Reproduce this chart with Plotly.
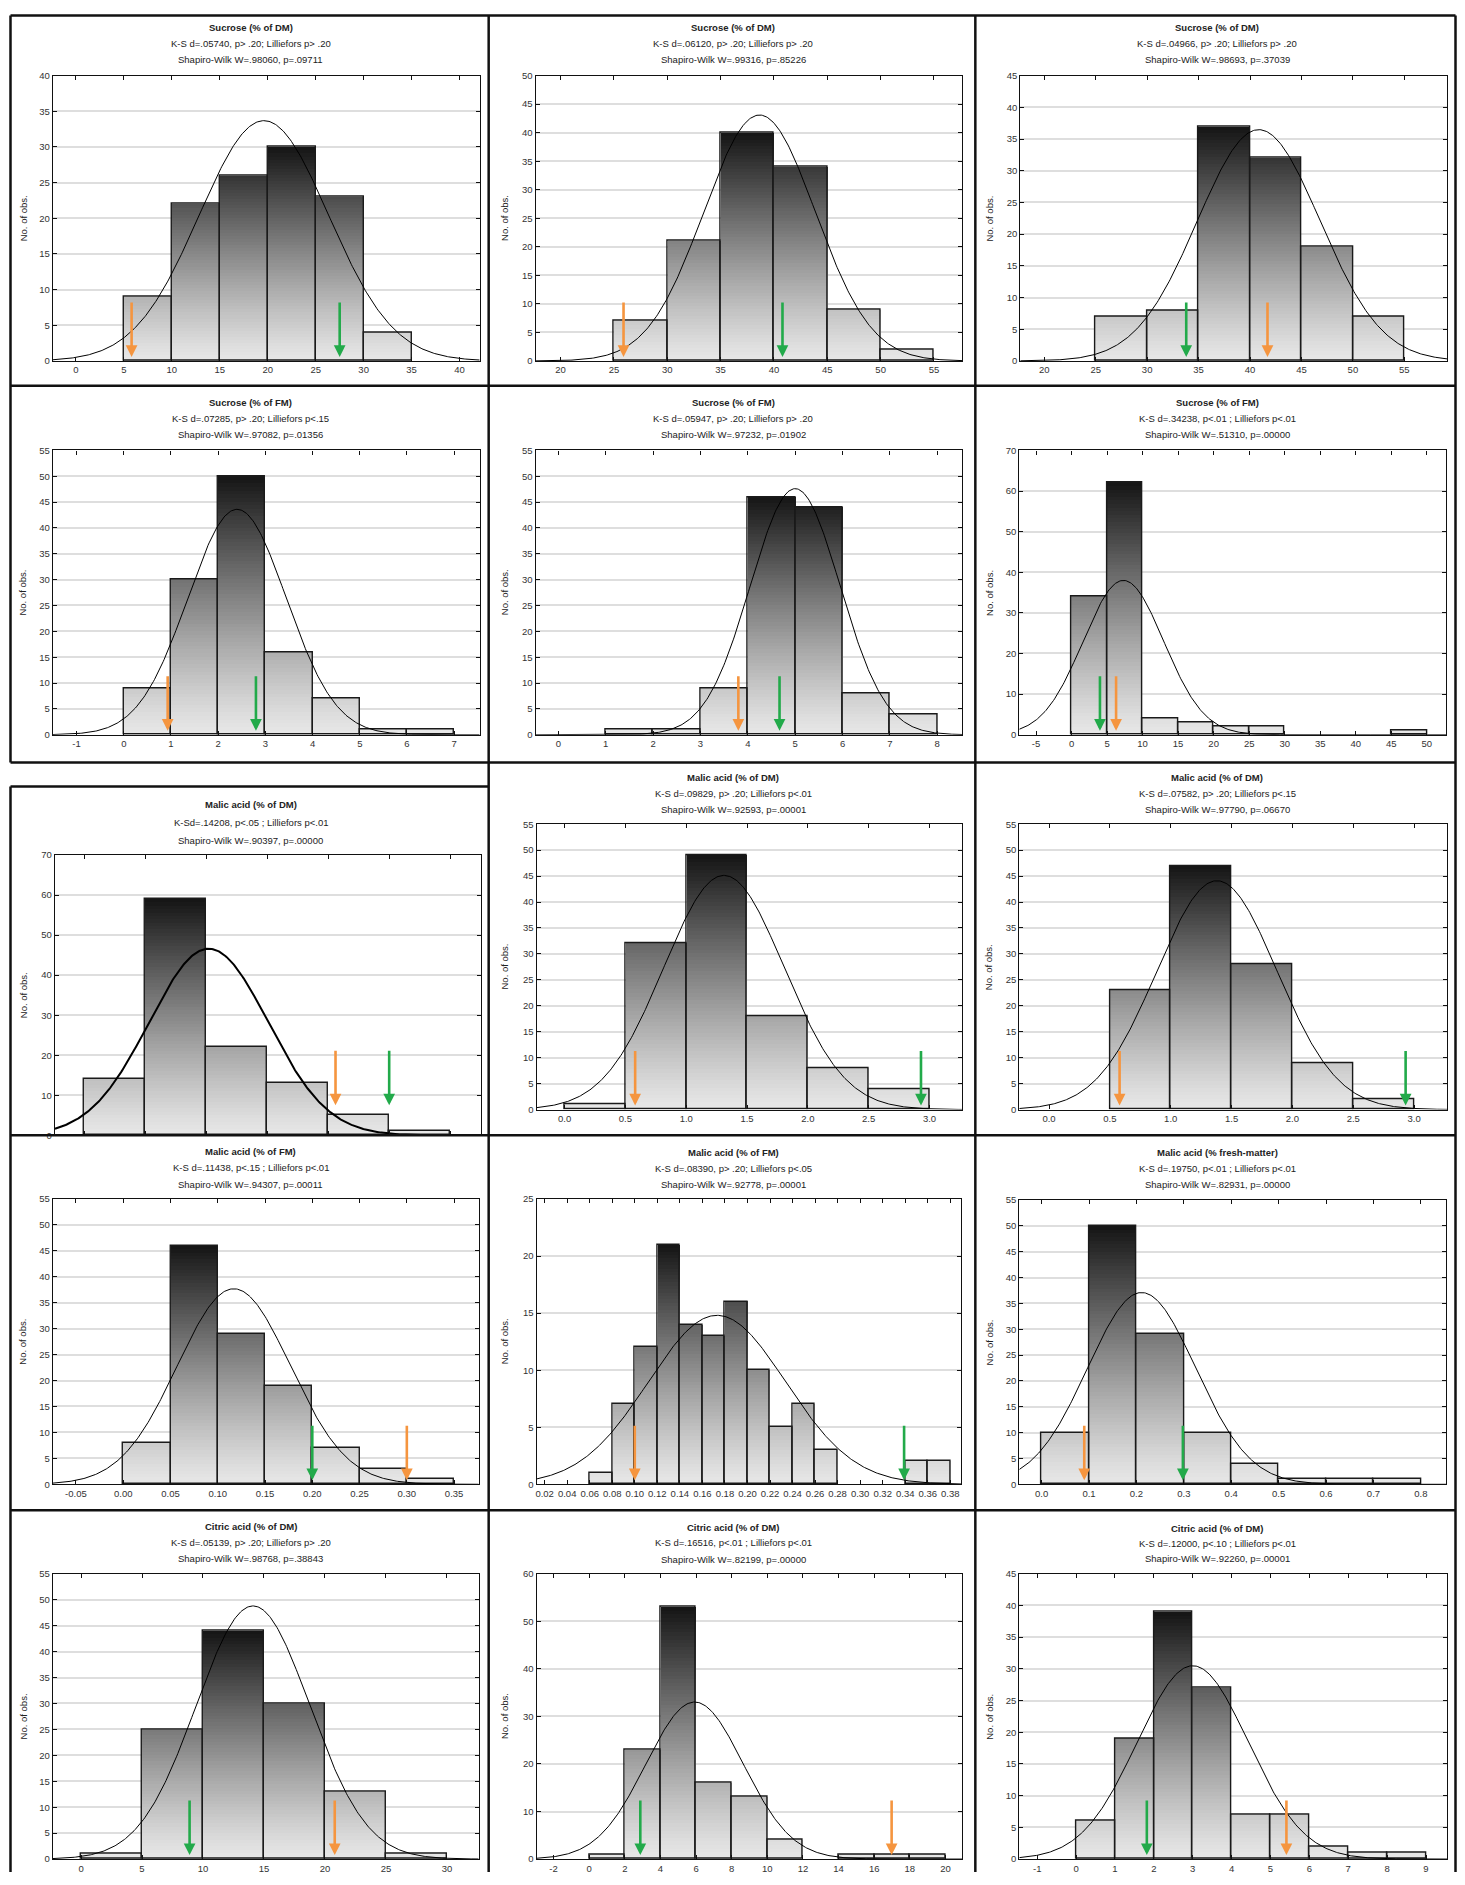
import numpy as np
import plotly.graph_objects as go

# ---------------- data ----------------
TITLES = [
    "Sucrose (% of DM)", "Sucrose (% of DM)", "Sucrose (% of DM)",
    "Sucrose (% of FM)", "Sucrose (% of FM)", "Sucrose (% of FM)",
    "Malic acid (% of DM)", "Malic acid (% of DM)", "Malic acid (% of DM)",
    "Malic acid (% of FM)", "Malic acid (% of FM)", "Malic acid (% fresh-matter)",
    "Citric acid (% of DM)", "Citric acid (% of DM)", "Citric acid (% of DM)",
]
KS_TEXT = [
    "K-S d=.05740, p> .20; Lilliefors p> .20",
    "K-S d=.06120, p> .20; Lilliefors p> .20",
    "K-S d=.04966, p> .20; Lilliefors p> .20",
    "K-S d=.07285, p> .20; Lilliefors p<.15",
    "K-S d=.05947, p> .20; Lilliefors p> .20",
    "K-S d=.34238, p<.01 ; Lilliefors p<.01",
    "K-Sd=.14208, p<.05 ; Lilliefors p<.01",
    "K-S d=.09829, p> .20; Lilliefors p<.01",
    "K-S d=.07582, p> .20; Lilliefors p<.15",
    "K-S d=.11438, p<.15 ; Lilliefors p<.01",
    "K-S d=.08390, p> .20; Lilliefors p<.05",
    "K-S d=.19750, p<.01 ; Lilliefors p<.01",
    "K-S d=.05139, p> .20; Lilliefors p> .20",
    "K-S d=.16516, p<.01 ; Lilliefors p<.01",
    "K-S d=.12000, p<.10 ; Lilliefors p<.01",
]
SW_TEXT = [
    "Shapiro-Wilk W=.98060, p=.09711",
    "Shapiro-Wilk W=.99316, p=.85226",
    "Shapiro-Wilk W=.98693, p=.37039",
    "Shapiro-Wilk W=.97082, p=.01356",
    "Shapiro-Wilk W=.97232, p=.01902",
    "Shapiro-Wilk W=.51310, p=.00000",
    "Shapiro-Wilk W=.90397, p=.00000",
    "Shapiro-Wilk W=.92593, p=.00001",
    "Shapiro-Wilk W=.97790, p=.06670",
    "Shapiro-Wilk W=.94307, p=.00011",
    "Shapiro-Wilk W=.92778, p=.00001",
    "Shapiro-Wilk W=.82931, p=.00000",
    "Shapiro-Wilk W=.98768, p=.38843",
    "Shapiro-Wilk W=.82199, p=.00000",
    "Shapiro-Wilk W=.92260, p=.00001",
]
BIN_START = [5, 25, 25, 0, 1, 0, 0, 0, 0.5, 0, 0.06, 0, 0, 0, 0]
BIN_WIDTH = [5, 5, 5, 1, 1, 5, 0.5, 0.5, 0.5, 0.05, 0.02, 0.1, 5, 2, 1]
COUNTS = [
    [9, 22, 26, 30, 23, 4],
    [7, 21, 40, 34, 9, 2],
    [7, 8, 37, 32, 18, 7],
    [9, 30, 50, 16, 7, 1, 1],
    [1, 1, 9, 46, 44, 8, 4],
    [34, 62, 4, 3, 2, 2, 0, 0, 0, 1],
    [14, 59, 22, 13, 5, 1],
    [1, 32, 49, 18, 8, 4],
    [23, 47, 28, 9, 2],
    [8, 46, 29, 19, 7, 3, 1],
    [1, 7, 12, 21, 14, 13, 16, 10, 5, 7, 3, 0, 0, 0, 2, 2],
    [10, 50, 29, 10, 4, 1, 1, 1],
    [1, 25, 44, 30, 13, 1],
    [1, 23, 53, 16, 13, 4, 0, 1, 1, 1],
    [6, 19, 39, 27, 7, 7, 2, 1, 1],
]
CURVE_MEAN = [19.6, 38.65, 40.85, 2.4, 5.0, 7.3, 1.02, 1.31, 1.38,
              0.117, 0.173, 0.211, 14.1, 5.92, 3.0]
CURVE_SD = [6.75, 5.23, 5.96, 1.043, 0.947, 5.67, 0.488, 0.495, 0.493,
            0.0598, 0.0609, 0.114, 4.66, 2.73, 1.426]
ORANGE_X = [5.8, 25.9, 41.7, 0.93, 3.8, 6.27, 2.06, 0.58, 0.58,
            0.30, 0.10, 0.09, 20.8, 16.98, 5.41]
GREEN_X = [27.5, 40.8, 33.8, 2.8, 4.67, 4.0, 2.50, 2.93, 2.93,
           0.20, 0.339, 0.298, 8.9, 2.87, 1.82]

# ---------------- layout configuration ----------------
PAGE_W, PAGE_H = 1465, 1885
OFF = 8                      # default page margin around the plot div
W, H = PAGE_W - 2 * OFF, PAGE_H - 2 * OFF
X_RANGE = [[-2.4, 42.1], [17.66, 57.66], [17.67, 59.15], [-1.5, 7.54], [-0.48, 8.53],
           [-7.35, 52.7], [-0.24, 3.25], [-0.23, 3.27], [-0.244, 3.27],
           [-0.0743, 0.376], [0.0129, 0.3898], [-0.047, 0.853],
           [-2.3, 32.6], [-2.95, 20.95], [-1.46, 9.54]]
Y_MAX = [40, 50, 45, 55, 55, 70, 70, 55, 55, 55, 25, 55, 55, 60, 45]
X_DTICK = [5, 5, 5, 1, 1, 5, 0.5, 0.5, 0.5, 0.05, 0.02, 0.1, 5, 2, 1]
X_DEC = [0, 0, 0, 0, 0, 0, 1, 1, 1, 2, 2, 1, 0, 0, 0]
Y_DTICK = [5, 5, 5, 5, 5, 10, 10, 5, 5, 5, 5, 5, 5, 10, 5]
ARROW_TIP_Y = [0, 0, 0, 0, 0, 0, 6.5, 0, 0, 0, 0, 0, 0, 0, 0]
SHOW_XLABELS = [True] * 6 + [False] + [True] * 8
CURVE_WIDTH = [1] * 6 + [2] + [1] * 8
# plot boxes in page pixels: x0, x1, y_top, y_bottom
BOX = [
    (52, 479, 70, 357), (535, 962, 70, 357), (1020, 1447, 70, 357),
    (52, 479, 447, 733), (535, 962, 447, 733), (1019, 1446, 447, 733),
    (54, 480, 854, 1136), (536, 962, 823, 1110), (1019, 1447, 823, 1110),
    (52, 478, 1200, 1487), (536, 961, 1200, 1487), (1019, 1446, 1201, 1487),
    (52, 478, 1577, 1864), (536, 962, 1577, 1864), (1019, 1447, 1577, 1864),
]
TITLE_Y = [
    (22, 38, 54), (22, 38, 54), (22, 38, 54),
    (399, 415, 431), (399, 415, 431), (399, 415, 431),
    (803, 821, 839), (776, 792, 808), (776, 792, 808),
    (1152, 1168, 1185), (1153, 1169, 1185), (1153, 1169, 1185),
    (1529, 1546, 1562), (1530, 1546, 1563), (1531, 1547, 1562),
]
TITLE_X = [250, 733, 1217]
YTITLE_X = [22, 504, 989]

FONT = "Liberation Sans, Arial, sans-serif"
FS = 9.5
ORANGE = "#f5953f"
GREEN = "#22aa4a"


def px(x):
    return (x - OFF) / W


def py(y):
    return 1 - (y - OFF) / H


def gray(t):
    g = int(round(232 - 212 * (max(0.0, min(1.0, t)) ** 1.15)))
    return f"rgb({g},{g},{g})"


fig = go.Figure()
annotations = []
shapes = []
layout = {}

for i in range(15):
    k = i + 1
    xa = "x" if k == 1 else f"x{k}"
    ya = "y" if k == 1 else f"y{k}"
    xname = "xaxis" if k == 1 else f"xaxis{k}"
    yname = "yaxis" if k == 1 else f"yaxis{k}"

    counts = np.array(COUNTS[i], dtype=float)
    w = BIN_WIDTH[i]
    centers = BIN_START[i] + w * (np.arange(len(counts)) + 0.5)
    nz = counts > 0
    cmax = counts.max()

    # gradient fill: stack thin slices, coloured by their height
    step = cmax / 70.0
    sx, sb, sh, sc = [], [], [], []
    for c, h in zip(centers[nz], counts[nz]):
        b = 0.0
        while b < h - 1e-9:
            top = min(b + step, h)
            sx.append(c)
            sb.append(b)
            sh.append(top - b + (0.02 * step if top < h else 0))
            sc.append(gray((b + top) / 2 / cmax))
            b = top
    fig.add_trace(go.Bar(x=sx, y=sh, base=sb, width=w, xaxis=xa, yaxis=ya,
                         marker=dict(color=sc, line=dict(width=0)),
                         hoverinfo="skip", showlegend=False))
    # outlines
    fig.add_trace(go.Bar(x=centers[nz], y=counts[nz], width=w, xaxis=xa, yaxis=ya,
                         marker=dict(color="rgba(0,0,0,0)",
                                     line=dict(color="#1a1a1a", width=1.4)),
                         showlegend=False))
    # fitted normal curve
    n = counts.sum()
    xs = np.linspace(X_RANGE[i][0], X_RANGE[i][1], 400)
    ys = n * w / (CURVE_SD[i] * np.sqrt(2 * np.pi)) * np.exp(
        -0.5 * ((xs - CURVE_MEAN[i]) / CURVE_SD[i]) ** 2)
    fig.add_trace(go.Scatter(x=xs, y=ys, mode="lines", xaxis=xa, yaxis=ya,
                             line=dict(color="black", width=CURVE_WIDTH[i]),
                             showlegend=False, hoverinfo="skip"))

    x0, x1, yt, yb = BOX[i]
    # x ticks
    d = X_DTICK[i]
    first = np.ceil(X_RANGE[i][0] / d - 1e-9) * d
    tv = np.round(np.arange(first, X_RANGE[i][1] + 1e-9, d), 6) + 0.0
    tt = [f"{v + 0.0:.{X_DEC[i]}f}" for v in tv]
    layout[xname] = dict(
        domain=[px(x0), px(x1)], anchor=ya, range=X_RANGE[i],
        tickvals=list(tv), ticktext=tt, showticklabels=SHOW_XLABELS[i], tickangle=0,
        showgrid=False, zeroline=False, showline=True, linecolor="#111", linewidth=1.3,
        mirror="allticks", ticks="inside", ticklen=4, tickcolor="#111",
        tickfont=dict(family=FONT, size=FS, color="#333"), fixedrange=True)
    layout[yname] = dict(
        domain=[py(yb), py(yt)], anchor=xa, range=[0, Y_MAX[i]], dtick=Y_DTICK[i],
        tick0=0, showgrid=True, gridcolor="#dedede", gridwidth=1.5, zeroline=False,
        showline=True, linecolor="#111", linewidth=1.3, mirror="allticks",
        ticks="inside", ticklen=4, tickcolor="#111",
        tickfont=dict(family=FONT, size=FS, color="#333"), fixedrange=True)

    col = i % 3
    ty = TITLE_Y[i]
    for txt, yy in zip(["<b>" + TITLES[i] + "</b>", KS_TEXT[i], SW_TEXT[i]], ty):
        annotations.append(dict(text=txt, x=px(TITLE_X[col]), y=py(yy), xref="paper",
                                yref="paper", showarrow=False, xanchor="center",
                                yanchor="middle",
                                font=dict(family=FONT, size=FS, color="#222")))
    annotations.append(dict(text="No. of obs.", x=px(YTITLE_X[col]), y=py((yt + yb) / 2),
                            xref="paper", yref="paper", showarrow=False, textangle=-90,
                            xanchor="center", yanchor="middle",
                            font=dict(family=FONT, size=FS, color="#222")))
    for ax_x, colr in ((ORANGE_X[i], ORANGE), (GREEN_X[i], GREEN)):
        annotations.append(dict(text="", x=ax_x, y=ARROW_TIP_Y[i], xref=xa, yref=ya,
                                showarrow=True, ax=0, ay=-60, axref="pixel",
                                ayref="pixel", arrowhead=2, arrowsize=0.9,
                                arrowwidth=2.6, arrowcolor=colr, standoff=4))

# panel frame lines (page pixels)
LW = 2.5
XMIN, XMAX = OFF + 1.5, OFF + W - 1.5
hlines = [(OFF + 1.5, 6, 1459), (382, 6, 1459), (761, 6, 1459), (785, 5, 488),
          (1136, 5, 1459), (1513, 5, 1459)]
vlines = [(6, 6, 761), (5, 785, 1885), (488, 6, 1885), (975, 6, 1885), (1459, 6, 1885)]
for y, xa0, xa1 in hlines:
    shapes.append(dict(type="line", xref="paper", yref="paper",
                       x0=px(max(xa0, XMIN)), x1=px(min(xa1, XMAX)),
                       y0=py(y), y1=py(y), line=dict(color="#111", width=LW), layer="above"))
for x, y0, y1 in vlines:
    xx = min(max(x, XMIN), XMAX)
    shapes.append(dict(type="line", xref="paper", yref="paper", x0=px(xx), x1=px(xx),
                       y0=py(max(y0, OFF + 1.5)), y1=py(min(y1, OFF + H)),
                       line=dict(color="#111", width=LW), layer="above"))

fig.update_layout(
    width=W, height=H, margin=dict(l=0, r=0, t=0, b=0),
    paper_bgcolor="white", plot_bgcolor="white", barmode="overlay", bargap=0,
    showlegend=False, annotations=annotations, shapes=shapes,
    font=dict(family=FONT, size=FS, color="#222"), **layout)

fig.write_html("out.html")
